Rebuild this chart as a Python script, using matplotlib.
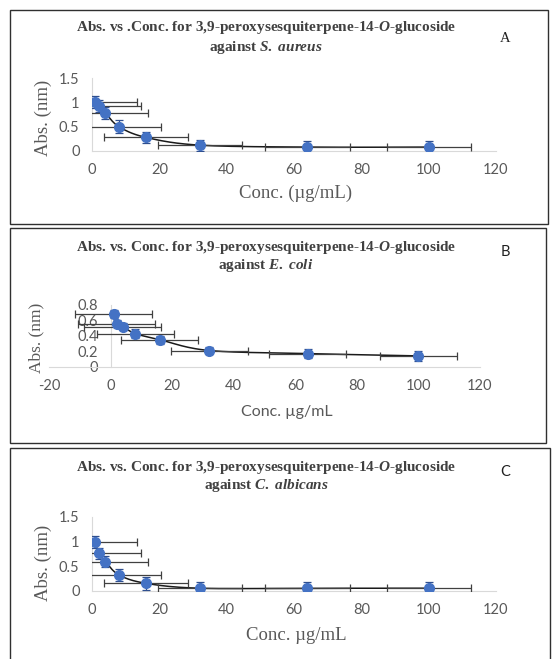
import numpy as np
import matplotlib
matplotlib.use("Agg")
import matplotlib.pyplot as plt
from matplotlib.patches import Rectangle

plt.rcParams['axes.unicode_minus'] = False
plt.rcParams['mathtext.fontset'] = 'custom'
plt.rcParams['mathtext.it'] = 'Liberation Serif:italic:bold'
plt.rcParams['mathtext.rm'] = 'Liberation Serif:bold'

# concentrations (ug/mL) and absorbance readings
conc = [1, 2, 4, 8, 16, 32, 64, 100]
conc_err = [12.5] * 8

abs_aureus = [1.0, 0.93, 0.78, 0.50, 0.28, 0.12, 0.08, 0.08]
err_aureus = [0.12, 0.12, 0.12, 0.13, 0.12, 0.11, 0.12, 0.12]

abs_coli = [0.68, 0.56, 0.52, 0.43, 0.35, 0.21, 0.17, 0.14]
err_coli = [0.05, 0.05, 0.05, 0.06, 0.05, 0.05, 0.06, 0.07]

abs_albicans = [0.98, 0.76, 0.59, 0.32, 0.15, 0.05, 0.05, 0.05]
err_albicans = [0.12, 0.11, 0.11, 0.12, 0.13, 0.12, 0.12, 0.12]

W, H = 552, 659
tick_col = '#595959'
sans = 'Lato'
serif = 'Liberation Serif'
title_size = 11


def px(x0, y0, x1, y1):
    # pixel box (top-left origin) -> figure fraction rect
    return [x0 / W, 1 - y1 / H, (x1 - x0) / W, (y1 - y0) / H]


def smooth(x, y, n=25):
    # Excel style smoothed line (Catmull-Rom through the points)
    p = np.column_stack([x, y]).astype(float)
    p = np.vstack([p[0], p, p[-1]])
    t = np.linspace(0, 1, n)[:, None]
    segs = []
    for i in range(1, len(p) - 2):
        p0, p1, p2, p3 = p[i - 1], p[i], p[i + 1], p[i + 2]
        c1 = p1 + (p2 - p0) / 6
        c2 = p2 - (p3 - p1) / 6
        segs.append((1 - t) ** 3 * p1 + 3 * (1 - t) ** 2 * t * c1
                    + 3 * (1 - t) * t ** 2 * c2 + t ** 3 * p2)
    s = np.vstack(segs)
    return s[:, 0], s[:, 1]


def panel(fig, rect, y, yerr, xlim, ylim, yticks, ylabels, xticks):
    ax = fig.add_axes(rect)
    ax.set_facecolor('none')
    sx, sy = smooth(conc, y)
    ax.plot(sx, sy, color='#1a1a1a', lw=1.1, zorder=2)
    ax.errorbar(conc, y, xerr=conc_err, fmt='none', ecolor='#404040',
                elinewidth=0.9, capsize=3, capthick=0.9, zorder=3)
    ax.errorbar(conc, y, yerr=yerr, fmt='none', ecolor='#2f4f8f',
                elinewidth=0.9, capsize=3, capthick=0.9, zorder=3)
    ax.plot(conc, y, 'o', color='#4472c4', ms=7, zorder=4)
    ax.set_xlim(*xlim)
    ax.set_ylim(*ylim)
    ax.set_xticks(xticks)
    ax.set_xticklabels([str(v) for v in xticks])
    ax.set_yticks(yticks)
    ax.set_yticklabels(ylabels)
    for s in ('top', 'right'):
        ax.spines[s].set_visible(False)
    ax.spines['left'].set_position(('data', 0))
    ax.spines['left'].set_color('#d9d9d9')
    ax.spines['bottom'].set_color('#d9d9d9')
    ax.tick_params(length=0, labelsize=10.5, labelcolor=tick_col)
    ax.tick_params(axis='x', pad=9)
    ax.tick_params(axis='y', pad=9)
    for lab in ax.get_xticklabels() + ax.get_yticklabels():
        lab.set_fontfamily(sans)
    return ax


def titles(fig, y1, line1, line2):
    for yy, txt in ((y1, line1), (y1 + 19, line2)):
        fig.text(266 / W, 1 - yy / H, txt, ha='center', va='center',
                 family=serif, weight='bold', fontsize=title_size,
                 color='#404040')


fig = plt.figure(figsize=(W / 100, H / 100), dpi=100)

# frames around each chart
for (x0, y0, x1, y1) in [(10, 10, 548, 224), (10, 228, 546, 443),
                         (10, 448, 550, 662)]:
    fig.add_artist(Rectangle((x0 / W, 1 - y1 / H), (x1 - x0) / W,
                             (y1 - y0) / H, transform=fig.transFigure,
                             fill=False, ec='#303030', lw=1.0))

xt = [0, 20, 40, 60, 80, 100, 120]

# A
panel(fig, px(92, 78, 496, 151), abs_aureus, err_aureus, (0, 120),
      (0, 1.5), [0, 0.5, 1, 1.5], ['0', '0.5', '1', '1.5'], xt)
titles(fig, 28,
       r"Abs. vs .Conc. for 3,9-peroxysesquiterpene-14-$O$-glucoside",
       r"against $S.$ $aureus$")
fig.text(505 / W, 1 - 38 / H, "A", ha='center', va='center', family=serif,
         fontsize=10.5, color='#202020')
fig.text(296 / W, 1 - 193 / H, "Conc. (\u00b5g/mL)", ha='center',
         va='center', family=serif, fontsize=13.5, color=tick_col)
fig.text(43 / W, 1 - 118 / H, "Abs. (nm)", ha='center', va='center',
         rotation=90, family=serif, fontsize=13.5, color=tick_col)

# B
panel(fig, px(49, 305, 480, 366.7), abs_coli, err_coli, (-20, 120),
      (0, 0.8), [0, 0.2, 0.4, 0.6, 0.8], ['0', '0.2', '0.4', '0.6', '0.8'],
      [-20] + xt)
titles(fig, 247,
       r"Abs. vs. Conc. for 3,9-peroxysesquiterpene-14-$O$-glucoside",
       r"against $E.$ $coli$")
fig.text(505 / W, 1 - 252 / H, "B", ha='center', va='center', family=sans,
         fontsize=10.5, color='#202020')
fig.text(287 / W, 1 - 412 / H, "Conc. \u00b5g/mL", ha='center',
         va='center', family=sans, fontsize=11.5, color=tick_col)
fig.text(36 / W, 1 - 338 / H, "Abs. (nm)", ha='center', va='center',
         rotation=90, family=serif, fontsize=12.5, color=tick_col)

# C
panel(fig, px(92, 516.7, 496, 590.7), abs_albicans, err_albicans, (0, 120),
      (0, 1.5), [0, 0.5, 1, 1.5], ['0', '0.5', '1', '1.5'], xt)
titles(fig, 467,
       r"Abs. vs. Conc. for 3,9-peroxysesquiterpene-14-$O$-glucoside",
       r"against $C.$ $albicans$")
fig.text(505 / W, 1 - 472 / H, "C", ha='center', va='center', family=sans,
         fontsize=10.5, color='#202020')
fig.text(296 / W, 1 - 635 / H, "Conc. \u00b5g/mL", ha='center',
         va='center', family=serif, fontsize=13.5, color=tick_col)
fig.text(43 / W, 1 - 563 / H, "Abs. (nm)", ha='center', va='center',
         rotation=90, family=serif, fontsize=13.5, color=tick_col)

fig.savefig("out.png", dpi=100)
